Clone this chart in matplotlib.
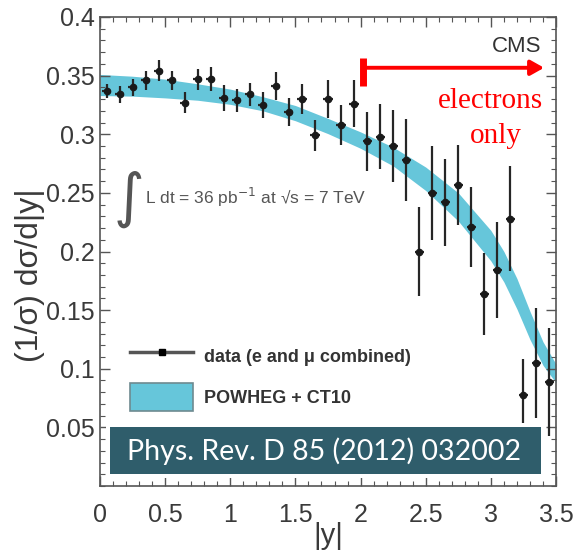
import matplotlib
matplotlib.use("Agg")
import matplotlib.pyplot as plt
from matplotlib.lines import Line2D
from matplotlib.patches import Patch, Rectangle

# measured 1/sigma dsigma/d|y| per |y| bin (bin width 0.1)
rap_bins = [0.05, 0.15, 0.25, 0.35, 0.45, 0.55, 0.65, 0.75, 0.85, 0.95,
            1.05, 1.15, 1.25, 1.35, 1.45, 1.55, 1.65, 1.75, 1.85, 1.95,
            2.05, 2.15, 2.25, 2.35, 2.45, 2.55, 2.65, 2.75, 2.85, 2.95,
            3.05, 3.15, 3.25, 3.35, 3.45]
xsec = [0.337, 0.334, 0.340, 0.346, 0.354, 0.346, 0.327, 0.347, 0.347, 0.331,
        0.329, 0.334, 0.325, 0.341, 0.319, 0.330, 0.299, 0.330, 0.308, 0.326,
        0.294, 0.298, 0.290, 0.278, 0.200, 0.250, 0.242, 0.257, 0.221, 0.164,
        0.184, 0.228, 0.078, 0.105, 0.089]
xsec_err = [0.006, 0.007, 0.007, 0.008, 0.009, 0.008, 0.009, 0.009, 0.010, 0.011,
            0.010, 0.010, 0.011, 0.012, 0.012, 0.013, 0.013, 0.016, 0.017, 0.020,
            0.025, 0.028, 0.031, 0.035, 0.038, 0.040, 0.037, 0.034, 0.034, 0.035,
            0.041, 0.045, 0.030, 0.047, 0.046]

# POWHEG + CT10 prediction band
band_x = [0, 0.25, 0.5, 0.75, 1.0, 1.25, 1.5, 1.75, 2.0, 2.25, 2.5, 2.75,
          3.0, 3.1, 3.2, 3.3, 3.4, 3.5]
band_hi = [0.351, 0.3495, 0.347, 0.343, 0.3385, 0.332, 0.3245, 0.3135, 0.302,
           0.289, 0.272, 0.250, 0.218, 0.200, 0.177, 0.149, 0.123, 0.104]
band_lo = [0.333, 0.3325, 0.331, 0.329, 0.3255, 0.320, 0.3115, 0.3005, 0.288,
           0.273, 0.252, 0.226, 0.192, 0.174, 0.151, 0.125, 0.103, 0.088]

xticks = [0, 0.5, 1, 1.5, 2, 2.5, 3, 3.5]
xtick_labels = ["0", "0.5", "1", "1.5", "2", "2.5", "3", "3.5"]
yticks = [0.05, 0.1, 0.15, 0.2, 0.25, 0.3, 0.35, 0.4]
ytick_labels = ["0.05", "0.1", "0.15", "0.2", "0.25", "0.3", "0.35", "0.4"]

band_col = "#66c6da"
grey = "#3a3a3a"
plt.rcParams["font.family"] = ["Liberation Sans", "DejaVu Sans"]

fig = plt.figure(figsize=(5.74, 5.52), dpi=100)
ax = fig.add_axes([100 / 574, 1 - 486 / 552, 456 / 574, 469 / 552])

ax.fill_between(band_x, band_lo, band_hi, color=band_col, lw=0, zorder=1)
ax.errorbar(rap_bins, xsec, yerr=xsec_err, xerr=0.035, fmt="o", ms=4.5,
            color="#1a1a1a", ecolor="#262626", elinewidth=1.6, capsize=0, zorder=3)

ax.set_xlim(0, 3.5)
ax.set_ylim(0, 0.4)
ax.set_xticks(xticks)
ax.set_xticklabels(xtick_labels)
ax.set_yticks(yticks)
ax.set_yticklabels(ytick_labels)
ax.minorticks_on()
ax.xaxis.set_minor_locator(matplotlib.ticker.MultipleLocator(0.1))
ax.yaxis.set_minor_locator(matplotlib.ticker.MultipleLocator(0.01))
ax.tick_params(which="both", direction="in", top=True, right=True, colors="#555555",
               labelcolor=grey, labelsize=18)
ax.tick_params(which="major", length=7, width=1)
ax.tick_params(which="minor", length=3.5, width=0.8)
ax.tick_params(axis="x", pad=12)
ax.tick_params(axis="y", pad=4)
for s in ax.spines.values():
    s.set_color("#555555")
    s.set_linewidth(1.2)

ax.set_xlabel("|y|", fontsize=21, color=grey)
ax.xaxis.set_label_coords(0.5, -0.076)
ax.set_ylabel("(1/σ) dσ/d|y|", fontsize=23, color=grey)
ax.yaxis.set_label_coords(-0.121, 0.45)

# annotations
ax.text(3.39, 0.3745, "CMS", ha="right", va="center", fontsize=16, color="#333333")
ax.plot([2.02, 2.02], [0.3415, 0.365], color="red", lw=5, solid_capstyle="butt")
ax.annotate("", xy=(3.43, 0.3567), xytext=(2.02, 0.3567),
            arrowprops=dict(arrowstyle="-|>,head_length=0.8,head_width=0.45",
                            color="red", lw=2.8))
ax.text(3.0, 0.328, "electrons", ha="center", va="center", fontsize=21,
        color="red", family="Liberation Serif")
ax.text(3.04, 0.2985, "only", ha="center", va="center", fontsize=21,
        color="red", family="Liberation Serif")

ax.text(0.215, 0.2445, r"$\int$", ha="center", va="center", fontsize=30, color="#555555")
ax.text(0.345, 0.2465, "L dt = 36 pb$^{-1}$ at √s = 7 TeV", ha="left",
        va="center", fontsize=12.5, color="#555555")

handles = [Line2D([], [], color="#555555", lw=2.5, marker="s", ms=4,
                  mfc="black", mec="black"),
           Patch(facecolor=band_col, edgecolor="#6e8a90", lw=1.2)]
leg = ax.legend(handles, ["data (e and μ combined)", "POWHEG + CT10"],
                loc="upper left", bbox_to_anchor=(0.066, 0.306), frameon=False,
                borderaxespad=0, borderpad=0, handlelength=3.5, handleheight=1.95,
                labelspacing=0.75, handletextpad=0.6,
                prop={"weight": "bold", "size": 13})
for t in leg.get_texts():
    t.set_color("#333333")

# reference banner
fig.patches.append(Rectangle((106 / 574, 1 - 478 / 552), 439 / 574, 55 / 552,
                             transform=fig.transFigure, facecolor="white",
                             edgecolor="none", zorder=5))
fig.patches.append(Rectangle((110 / 574, 1 - 474 / 552), 431 / 574, 47 / 552,
                             transform=fig.transFigure, facecolor="#2f5d6b",
                             edgecolor="none", zorder=6))
fig.text(324 / 574, 1 - 451 / 552, "Phys. Rev. D 85 (2012) 032002", ha="center",
         va="center", fontsize=20.5, color="white", family="Lato", zorder=7)

fig.savefig("out.png", dpi=100)
